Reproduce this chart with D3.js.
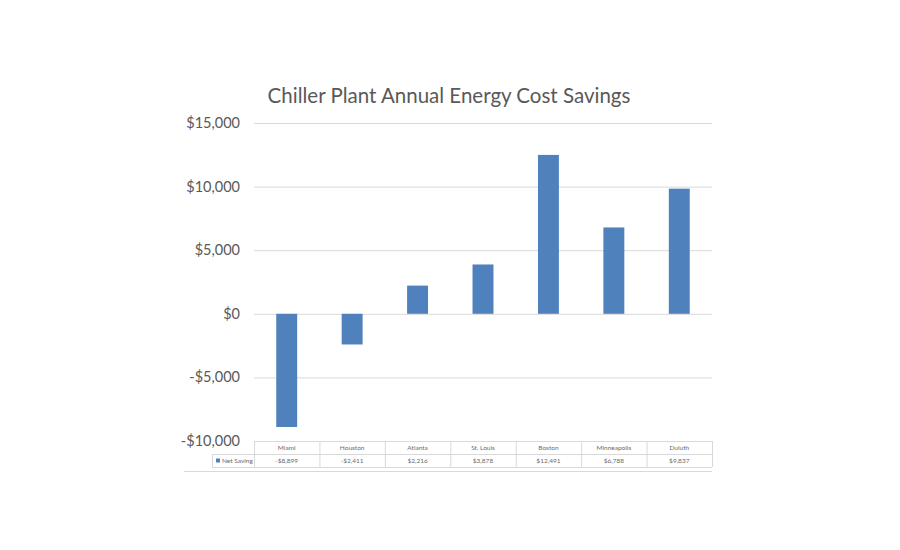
<!DOCTYPE html>
<html>
<head>
<meta charset="utf-8">
<script src="https://cdn.jsdelivr.net/npm/d3@7"></script>
<style>
  body { margin: 0; background: #fff; }
  svg { display: block; font-family: Lato, "Open Sans", sans-serif; }
</style>
</head>
<body>
<div id="chart"></div>
<script>
const cities = ['Miami', 'Houston', 'Atlanta', 'St. Louis', 'Boston', 'Minneapolis', 'Duluth'];
const netSaving = [-8899, -2411, 2216, 3878, 12491, 6788, 9837];
const seriesName = 'Net Saving';
const yTicks = [-10000, -5000, 0, 5000, 10000, 15000];

const width = 900;
const height = 550;
const plotLeft = 254, plotRight = 712, plotTop = 123, plotBottom = 441;

const svg = d3.select('#chart').append('svg')
  .attr('width', width).attr('height', height);

const x = d3.scaleBand().domain(cities).range([plotLeft, plotRight]).paddingInner(0.68).paddingOuter(0.34);
const col = d3.scaleBand().domain(cities).range([plotLeft, plotRight]);
const y = d3.scaleLinear().domain([-10000, 15000]).range([plotBottom, plotTop]);

const money = v => (v < 0 ? '-' : '') + '$' + d3.format(',')(Math.abs(v));

// gridlines
svg.append('g').selectAll('line')
  .data(yTicks.filter(t => t !== -10000))
  .join('line')
  .attr('x1', plotLeft).attr('x2', plotRight)
  .attr('y1', d => y(d) + 0.5).attr('y2', d => y(d) + 0.5)
  .attr('stroke', '#d9d9d9').attr('stroke-width', 1);

// y labels
svg.append('g').selectAll('text')
  .data(yTicks)
  .join('text')
  .attr('x', 240).attr('y', d => y(d))
  .attr('dy', '0.35em')
  .attr('text-anchor', 'end')
  .attr('font-size', 14.5)
  .attr('fill', '#595959')
  .text(money);

// bars
svg.append('g').selectAll('rect')
  .data(cities)
  .join('rect')
  .attr('x', d => x(d))
  .attr('width', x.bandwidth())
  .attr('y', (d, i) => y(Math.max(0, netSaving[i])))
  .attr('height', (d, i) => Math.abs(y(netSaving[i]) - y(0)))
  .attr('fill', '#4f81bd');

// data table
const rowH = 13;
const tableLeft = 212;
const tbl = svg.append('g').attr('stroke', '#d9d9d9').attr('fill', 'none');
tbl.append('line').attr('x1', plotLeft).attr('x2', plotRight).attr('y1', plotBottom + 0.5).attr('y2', plotBottom + 0.5);
tbl.append('line').attr('x1', tableLeft).attr('x2', plotRight).attr('y1', plotBottom + rowH + 0.5).attr('y2', plotBottom + rowH + 0.5);
tbl.append('line').attr('x1', tableLeft).attr('x2', plotRight).attr('y1', plotBottom + 2 * rowH + 0.5).attr('y2', plotBottom + 2 * rowH + 0.5);
tbl.append('line').attr('x1', tableLeft + 0.5).attr('x2', tableLeft + 0.5).attr('y1', plotBottom + rowH).attr('y2', plotBottom + 2 * rowH);
tbl.selectAll('.v').data(cities.concat(['__end']))
  .join('line')
  .attr('x1', d => (d === '__end' ? plotRight : col(d)) + 0.5)
  .attr('x2', d => (d === '__end' ? plotRight : col(d)) + 0.5)
  .attr('y1', plotBottom).attr('y2', plotBottom + 2 * rowH);

svg.append('g').selectAll('text')
  .data(cities)
  .join('text')
  .attr('x', d => col(d) + col.bandwidth() / 2)
  .attr('y', plotBottom + rowH / 2 + 0.5)
  .attr('dy', '0.35em')
  .attr('text-anchor', 'middle')
  .attr('font-size', 6.5)
  .attr('fill', '#6b6b6b')
  .text(d => d);

svg.append('g').selectAll('text')
  .data(netSaving)
  .join('text')
  .attr('x', (d, i) => col(cities[i]) + col.bandwidth() / 2)
  .attr('y', plotBottom + rowH * 1.5 + 0.5)
  .attr('dy', '0.35em')
  .attr('text-anchor', 'middle')
  .attr('font-size', 6.5)
  .attr('fill', '#6b6b6b')
  .text(money);

// legend key in table
svg.append('rect')
  .attr('x', tableLeft + 4).attr('y', plotBottom + rowH * 1.5 - 2)
  .attr('width', 4).attr('height', 4)
  .attr('fill', '#4f81bd');
svg.append('text')
  .attr('x', tableLeft + 10).attr('y', plotBottom + rowH * 1.5 + 0.5)
  .attr('dy', '0.35em')
  .attr('font-size', 6.5)
  .attr('fill', '#6b6b6b')
  .text(seriesName);

// bottom rule
svg.append('line')
  .attr('x1', 184).attr('x2', plotRight)
  .attr('y1', 471.5).attr('y2', 471.5)
  .attr('stroke', '#d9d9d9');

// title
svg.append('text')
  .attr('x', 449).attr('y', 103)
  .attr('text-anchor', 'middle')
  .attr('font-size', 20.5)
  .attr('fill', '#595959')
  .text('Chiller Plant Annual Energy Cost Savings');
</script>
</body>
</html>
